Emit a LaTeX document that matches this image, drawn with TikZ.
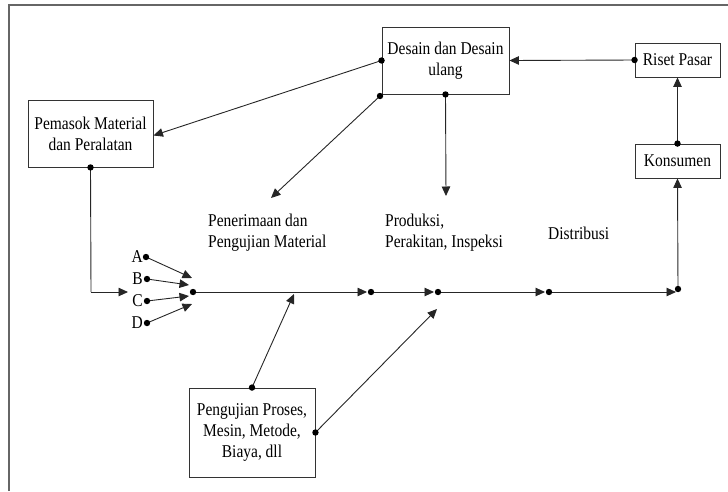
\documentclass[tikz,border=0pt]{standalone}
\usepackage{fontspec}
\setmainfont{Liberation Serif}[FakeStretch=0.86]
\usetikzlibrary{arrows.meta}
\tikzset{
  box/.style={draw=black!80, line width=0.9pt, fill=white, align=center, inner sep=2pt,
    font=\fontsize{18}{21}\selectfont},
  lbl/.style={align=left, inner sep=0pt, font=\fontsize{18}{21}\selectfont},
  conn/.style={draw=black!85, line width=0.9pt, -{Triangle[length=9.5pt,width=8.5pt]}},
  plain/.style={draw=black!85, line width=0.9pt},
  frameline/.style={draw=black!60, line width=1.4pt},
  dot/.style={fill=black, draw=none}
}
\newcommand{\pdot}[1]{\fill[dot] (#1) circle (3.2pt);}
\begin{document}
\begin{tikzpicture}[x=1pt, y=-1pt]
\useasboundingbox (0,0) rectangle (728,491);

% outer frame edges
\draw[frameline] (9,491) -- (9,5) -- (728,5);

% boxes
\node[box, minimum width=127pt, minimum height=67pt] (desain) at (445.5,60.5) {Desain dan Desain\\ulang};
\node[box, minimum width=85pt, minimum height=34pt] (riset) at (677.5,60) {Riset Pasar};
\node[box, minimum width=85pt, minimum height=34pt] (konsumen) at (677.5,161) {Konsumen};
\node[box, minimum width=125pt, minimum height=67pt] (pemasok) at (90.5,133.5) {Pemasok Material\\dan Peralatan};
\node[box, minimum width=126pt, minimum height=89pt] (uji) at (252,432.5) {Pengujian Proses,\\Mesin, Metode,\\Biaya, dll};

% stage labels
\node[lbl, anchor=west] (terima) at (208,233) {Penerimaan dan\\Pengujian Material};
\node[lbl, anchor=west] (produksi) at (385,233) {Produksi,\\Perakitan, Inspeksi};
\node[lbl, anchor=west] (distribusi) at (548,233) {Distribusi};

% input labels
\node[lbl, anchor=east] (la) at (143,257) {A};
\node[lbl, anchor=east] (lb) at (143,279) {B};
\node[lbl, anchor=east] (lc) at (143,301) {C};
\node[lbl, anchor=east] (ld) at (143,323) {D};

% points on the flow line
\coordinate (dA) at (146,257);
\coordinate (dB) at (147,279);
\coordinate (dC) at (147,301);
\coordinate (dD) at (147,323);
\coordinate (tA) at (192,278);
\coordinate (tB) at (189,285);
\coordinate (tC) at (189,296);
\coordinate (tD) at (192,304);
\coordinate (c0) at (193,292);
\coordinate (c1) at (371,292);
\coordinate (c2) at (438,292);
\coordinate (c3) at (549,292);
\coordinate (c4) at (676,292);
\coordinate (corner) at (678,289);
\coordinate (bend) at (91,292);
\coordinate (inlet) at (128,292);
\coordinate (ujiHit) at (294,294);
\coordinate (ujiHit2) at (437,309);
\coordinate (terimaTip) at (271,198);
\coordinate (produksiTip) at (446,196);
\coordinate (dsw) at (380,96);

% connectors
\draw[conn] (riset.west) -- (desain.east);
\draw[conn] (konsumen.north) -- (riset.south);
\draw[conn] (corner) -- (konsumen.south);
\draw[conn] (desain.west) -- ([yshift=-2pt]pemasok.east);
\draw[conn] (dsw) -- (terimaTip);
\draw[conn] (desain.south) -- (produksiTip);
\draw[plain] (pemasok.south) -- (bend);
\draw[conn] (bend) -- (inlet);
\draw[conn] (dA) -- (tA);
\draw[conn] (dB) -- (tB);
\draw[conn] (dC) -- (tC);
\draw[conn] (dD) -- (tD);
\draw[conn, shorten >=4pt] (c0) -- (c1);
\draw[conn, shorten >=4pt] (c1) -- (c2);
\draw[conn, shorten >=4pt] (c2) -- (c3);
\draw[conn] (c3) -- (c4);
\draw[conn] (uji.north) -- (ujiHit);
\draw[conn] (uji.east) -- (ujiHit2);

% junction dots
\pdot{riset.west}
\pdot{konsumen.north}
\pdot{corner}
\pdot{desain.west}
\pdot{dsw}
\pdot{desain.south}
\pdot{pemasok.south}
\pdot{dA}
\pdot{dB}
\pdot{dC}
\pdot{dD}
\pdot{c0}
\pdot{c1}
\pdot{c2}
\pdot{c3}
\pdot{uji.north}
\pdot{uji.east}
\end{tikzpicture}
\end{document}
